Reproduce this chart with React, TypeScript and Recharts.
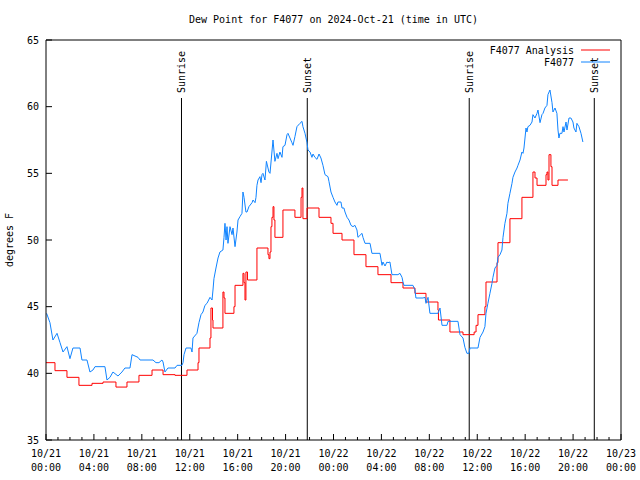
import { LineChart, Line, XAxis, YAxis, ReferenceLine, Legend } from "recharts";

const FONT = "'DejaVu Sans Mono', monospace";
const RED = "#ff0000";
const BLUE = "#1084ff";

// hours since 10/21 00:00 UTC
const hourTicks = Array.from({ length: 49 }, (_, i) => i);
const yTicks = [35, 40, 45, 50, 55, 60, 65];
const dayLabels = ["10/21", "10/21", "10/21", "10/21", "10/21", "10/21", "10/22", "10/22", "10/22", "10/22", "10/22", "10/22", "10/23"];
const timeLabels = ["00:00", "04:00", "08:00", "12:00", "16:00", "20:00", "00:00", "04:00", "08:00", "12:00", "16:00", "20:00", "00:00"];

const sunNames = ["Sunrise", "Sunset", "Sunrise", "Sunset"];
const sunHours = [11.31, 21.81, 35.33, 45.77];
const sunMarkTop = 60.65;

// station obs [hour, dew point F]
const stationObs: [number, number][] = [
  [0.05,44.5],[0.33,43.8],[0.58,42.5],[0.92,43.0],[1.17,42.3],[1.42,41.6],[1.75,42.0],[2.0,41.1],[2.25,41.9],[2.84,41.9],
  [3.0,41.0],[3.42,41.0],[3.67,40.1],[3.92,40.25],[4.09,40.5],[4.92,40.5],[5.09,39.5],[5.34,39.7],[5.59,40.1],[6.01,39.8],
  [6.34,40.1],[6.59,40.4],[7.01,40.4],[7.18,41.4],[7.68,41.2],[7.85,41.0],[8.93,41.0],[9.18,40.8],[9.43,40.8],[9.68,41.0],
  [9.77,40.85],[9.93,40.1],[10.18,40.4],[10.77,40.4],[10.94,40.6],[11.35,40.6],[11.44,40.8],[11.52,41.4],[11.69,41.9],[12.1,41.9],
  [12.19,41.6],[12.27,42.65],[12.6,43.0],[12.77,43.8],[12.94,44.4],[13.1,44.6],[13.27,45.1],[13.44,45.25],[13.69,45.7],[13.86,45.5],
  [13.94,46.25],[14.02,47.1],[14.19,47.9],[14.36,48.65],[14.52,49.1],[14.77,49.25],[14.86,50.2],[14.94,51.25],[15.03,50.0],[15.11,51.0],
  [15.19,49.75],[15.36,51.0],[15.53,50.4],[15.61,50.9],[15.78,49.5],[15.94,50.6],[16.03,51.5],[16.19,51.75],[16.36,52.0],[16.44,53.6],
  [16.53,53.2],[16.69,52.1],[16.78,52.1],[16.94,52.5],[17.2,52.8],[17.28,53.0],[17.45,52.8],[17.53,53.2],[17.61,54.1],[17.7,54.5],
  [17.86,54.75],[17.95,54.3],[18.03,54.9],[18.11,55.0],[18.28,54.5],[18.4,55.9],[18.61,55.1],[18.7,55.0],[18.86,56.6],[18.95,57.5],
  [19.11,55.9],[19.28,56.5],[19.37,56.1],[19.53,56.6],[19.7,56.2],[19.78,57.0],[19.95,57.1],[20.12,57.9],[20.2,58.0],[20.53,57.3],
  [20.62,57.1],[20.78,57.75],[20.95,58.5],[21.2,58.75],[21.37,58.9],[21.45,58.5],[21.62,58.0],[21.79,57.3],[21.87,56.75],[22.04,56.6],
  [22.2,56.2],[22.29,56.45],[22.45,56.2],[22.62,56.05],[22.79,56.45],[22.95,56.15],[23.12,55.6],[23.29,54.9],[23.54,54.75],[23.62,54.4],
  [23.79,53.6],[23.96,53.2],[24.12,52.85],[24.29,52.6],[24.37,52.85],[24.62,52.85],[24.71,52.4],[24.87,52.4],[24.96,52.1],[25.13,51.7],
  [25.29,51.5],[25.46,51.1],[25.63,51.0],[25.79,51.1],[25.96,50.75],[26.04,50.2],[26.38,50.5],[26.46,50.2],[26.63,49.75],[27.05,49.75],
  [27.21,49.0],[27.88,49.0],[28.05,48.1],[28.13,48.35],[28.3,48.05],[28.46,48.35],[28.55,48.3],[28.71,48.35],[28.88,47.4],[29.38,47.4],
  [29.55,47.5],[29.72,47.2],[29.8,46.85],[29.88,46.6],[30.63,46.6],[30.8,46.25],[30.88,45.65],[31.47,45.65],[31.64,45.7],[31.72,45.25],
  [31.89,45.7],[32.05,44.5],[32.72,44.5],[32.89,44.9],[33.06,43.6],[33.47,43.6],[33.56,43.9],[34.39,43.9],[34.56,42.9],[34.81,42.65],
  [34.97,41.95],[35.14,41.5],[35.31,41.5],[35.39,41.9],[36.06,41.9],[36.23,42.7],[36.48,43.1],[36.64,43.5],[36.73,44.5],[36.89,45.25],
  [37.06,46.0],[37.23,46.75],[37.31,47.2],[37.48,47.9],[37.65,48.1],[37.73,48.7],[37.9,48.9],[38.06,49.25],[38.15,50.2],[38.31,51.25],
  [38.48,52.0],[38.56,52.75],[38.73,53.5],[38.9,54.25],[38.98,54.7],[39.15,55.1],[39.32,55.4],[39.4,55.6],[39.57,56.0],[39.73,56.6],
  [39.82,56.5],[39.9,56.9],[40.07,58.4],[40.15,58.1],[40.23,58.5],[40.4,58.6],[40.57,58.85],[40.65,59.4],[40.82,59.15],[40.99,59.5],
  [41.07,59.75],[41.24,58.8],[41.4,59.4],[41.49,59.5],[41.65,59.9],[41.82,60.1],[41.9,60.9],[42.07,61.25],[42.24,60.3],[42.32,59.6],
  [42.49,59.9],[42.65,59.5],[42.74,58.25],[42.82,57.65],[42.9,58.0],[43.07,58.0],[43.16,58.5],[43.24,58.1],[43.41,58.85],[43.49,58.25],
  [43.66,59.15],[43.82,59.15],[43.99,58.85],[44.07,58.4],[44.24,58.1],[44.32,58.75],[44.49,58.5],[44.66,58.0],[44.82,57.35],
];

// analysis [hour, dew point F], held until next value
const analysisObs: [number, number][] = [
  [0,40.8],[0.75,40.2],[1.75,39.7],[2.75,39.1],[3.84,39.25],[4.76,39.35],[5.84,38.97],[6.76,39.35],[7.76,39.85],[8.85,40.25],
  [9.77,39.9],[10.77,39.85],[11.77,40.25],[12.69,40.8],[12.77,41.9],[13.69,42.65],[13.77,44.9],[13.9,44.0],[13.94,43.4],[14.77,46.1],
  [14.86,45.65],[14.94,44.5],[15.69,45.0],[15.78,46.6],[16.44,47.5],[16.53,46.8],[16.61,45.5],[16.69,47.6],[16.82,47.0],[17.61,49.4],
  [18.53,48.9],[18.61,48.6],[18.7,49.1],[18.78,51.0],[18.86,51.7],[18.95,52.5],[19.03,51.5],[19.11,50.2],[19.78,52.25],[20.78,51.7],
  [21.29,53.2],[21.37,53.9],[21.45,51.6],[21.79,52.4],[22.79,51.7],[23.79,51.25],[23.96,50.5],[24.71,50.0],[25.71,48.9],[26.71,48.0],
  [27.71,47.4],[28.8,46.8],[29.8,46.4],[30.8,46.0],[31.72,45.35],[32.72,44.75],[32.76,44.0],[33.72,43.1],[34.81,42.9],[35.74,43.1],
  [35.9,43.6],[36.06,44.4],[36.64,45.0],[36.73,46.85],[37.65,48.3],[37.73,49.8],[38.73,51.6],[39.73,53.2],[40.65,55.1],[40.82,54.65],
  [40.99,54.1],[41.74,54.9],[41.82,55.1],[41.9,54.5],[41.99,56.4],[42.15,55.5],[42.24,54.1],[42.74,54.5],[43.57,54.5],
];

const stationData = stationObs.map(([h, v]) => ({ h, v }));
const analysisData = analysisObs.map(([h, v]) => ({ h, v }));

function BottomTick({ x, y, payload }: any) {
  const h = payload.value;
  const major = h % 4 === 0;
  const i = h / 4;
  return (
    <g>
      <line x1={x} x2={x} y1={y} y2={y - (major ? 6 : 3)} stroke="#000" />
      {major && (
        <text x={x} y={y + 17} textAnchor="middle" fontFamily={FONT} fontSize={10} fill="#000">
          <tspan x={x}>{dayLabels[i]}</tspan>
          <tspan x={x} dy={14}>{timeLabels[i]}</tspan>
        </text>
      )}
    </g>
  );
}

function TopTick({ x, y, payload }: any) {
  const major = payload.value % 4 === 0;
  return <line x1={x} x2={x} y1={y} y2={y + (major ? 6 : 3)} stroke="#000" />;
}

function LeftTick({ x, y, payload }: any) {
  return (
    <g>
      <line x1={x} x2={x + 6} y1={y} y2={y} stroke="#000" />
      <text x={x - 7} y={y} dy="0.35em" textAnchor="end" fontFamily={FONT} fontSize={10} fill="#000">
        {payload.value}
      </text>
    </g>
  );
}

function RightTick({ x, y }: any) {
  return <line x1={x} x2={x - 6} y1={y} y2={y} stroke="#000" />;
}

function sunLabel(name: string) {
  return (props: any) => {
    const vb = props.viewBox;
    const tx = vb.x + 4;
    const ty = vb.y - 5;
    return (
      <text x={tx} y={ty} transform={`rotate(-90 ${tx} ${ty})`} fontFamily={FONT} fontSize={10} fill="#000">
        {name}
      </text>
    );
  };
}

function LegendBox() {
  return (
    <svg width={160} height={30}>
      <text x={114} y={13.5} textAnchor="end" fontFamily={FONT} fontSize={10} fill="#000">F4077 Analysis</text>
      <line x1={121} x2={150} y1={10} y2={10} stroke={RED} />
      <text x={114} y={25.5} textAnchor="end" fontFamily={FONT} fontSize={10} fill="#000">F4077</text>
      <line x1={121} x2={150} y1={22} y2={22} stroke={BLUE} />
    </svg>
  );
}

export default function App() {
  return (
    <div style={{ width: 640, height: 480, background: "#fff" }}>
      <style>{"body{margin:0}"}</style>
      <LineChart width={640} height={480} margin={{ top: 20, right: 0, bottom: 0, left: 0 }}>
        <XAxis
          dataKey="h"
          type="number"
          domain={[0, 48]}
          ticks={hourTicks}
          interval={0}
          height={40}
          tickLine={false}
          tickSize={0}
          tickMargin={0}
          axisLine={{ stroke: "#000" }}
          tick={<BottomTick />}
          allowDataOverflow
        />
        <XAxis
          xAxisId="top"
          orientation="top"
          dataKey="h"
          type="number"
          domain={[0, 48]}
          ticks={hourTicks}
          interval={0}
          height={20}
          tickLine={false}
          tickSize={0}
          tickMargin={0}
          axisLine={{ stroke: "#000" }}
          tick={<TopTick />}
          label={(p: any) => (
            <text
              x={p.viewBox.x + p.viewBox.width / 2}
              y={p.viewBox.y + 3}
              textAnchor="middle"
              fontFamily={FONT}
              fontSize={10}
              fill="#000"
            >
              Dew Point for F4077 on 2024-Oct-21 (time in UTC)
            </text>
          )}
        />
        <YAxis
          domain={[35, 65]}
          ticks={yTicks}
          interval={0}
          width={46}
          tickLine={false}
          tickSize={0}
          tickMargin={0}
          axisLine={{ stroke: "#000" }}
          tick={<LeftTick />}
          allowDataOverflow
          label={(p: any) => {
            const cx = 13;
            const cy = p.viewBox.y + p.viewBox.height / 2;
            return (
              <text x={cx} y={cy} transform={`rotate(-90 ${cx} ${cy})`} textAnchor="middle" fontFamily={FONT} fontSize={10} fill="#000">
                degrees F
              </text>
            );
          }}
        />
        <YAxis
          yAxisId="right"
          orientation="right"
          domain={[35, 65]}
          ticks={yTicks}
          interval={0}
          width={19}
          tickLine={false}
          tickSize={0}
          tickMargin={0}
          axisLine={{ stroke: "#000" }}
          tick={<RightTick />}
        />
        {sunHours.map((h, i) => (
          <ReferenceLine
            key={i}
            segment={[{ x: h, y: 35 }, { x: h, y: sunMarkTop }]}
            stroke="#000"
            strokeWidth={1}
            label={sunLabel(sunNames[i])}
          />
        ))}
        <Line
          data={analysisData}
          dataKey="v"
          type="stepAfter"
          stroke={RED}
          strokeWidth={1}
          dot={false}
          isAnimationActive={false}
        />
        <Line
          data={stationData}
          dataKey="v"
          type="linear"
          stroke={BLUE}
          strokeWidth={1}
          dot={false}
          isAnimationActive={false}
        />
        <Legend
          layout="horizontal"
          verticalAlign="middle"
          align="center"
          content={() => <LegendBox />}
          wrapperStyle={{ top: 40, left: 460, width: 160, height: 30 }}
        />
      </LineChart>
    </div>
  );
}
